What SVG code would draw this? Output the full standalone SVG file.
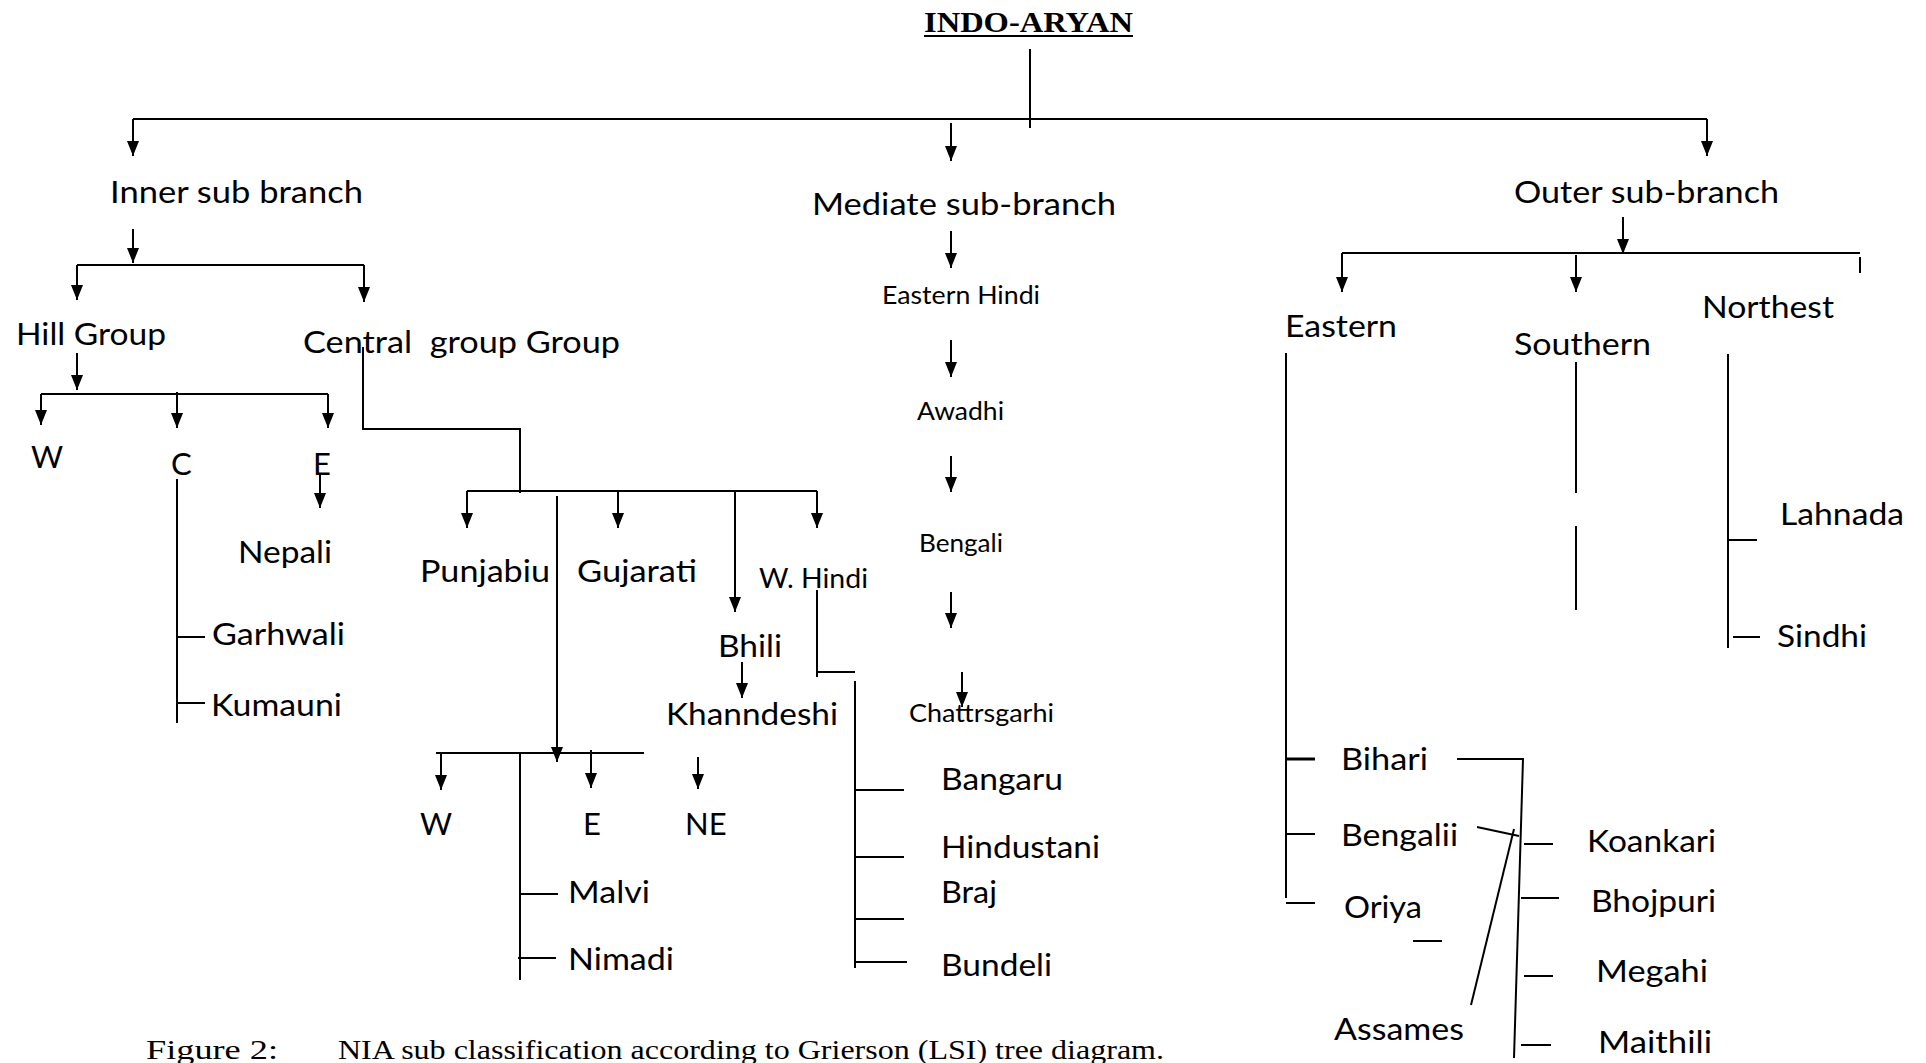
<svg xmlns="http://www.w3.org/2000/svg" width="1926" height="1063" viewBox="0 0 1926 1063">
<style>
.t{font-family:Lato,"Open Sans","Noto Sans",sans-serif;font-size:31px;fill:#000}
.s{font-family:Lato,"Open Sans","Noto Sans",sans-serif;font-size:25px;fill:#000}
.ti{font-family:"Liberation Serif","Times New Roman",serif;font-size:30px;font-weight:bold;fill:#000}
.cap{font-family:"Liberation Serif","Times New Roman",serif;font-size:28px;fill:#000}
.ln{fill:none;stroke:#000;stroke-width:2}
.ar{fill:none;stroke:#000;stroke-width:2;marker-end:url(#ah)}
</style>
<defs>
<marker id="ah" markerUnits="userSpaceOnUse" markerWidth="15" markerHeight="12" refX="15" refY="6" orient="auto" viewBox="0 0 15 12">
<path d="M0,0 L15,6 L0,12 z" fill="#000"/>
</marker>
</defs>
<rect width="1926" height="1063" fill="#fff"/>

<g id="connectors">
<path class="ln" d="M1030,49 V128"/>
<path class="ln" d="M133,119 H1707"/>
<path class="ar" d="M133,119 V156"/>
<path class="ar" d="M951,123 V161"/>
<path class="ar" d="M1707,119 V156"/>
<path class="ar" d="M133,229 V263"/>
<path class="ln" d="M77,265 H364"/>
<path class="ar" d="M77,265 V300"/>
<path class="ar" d="M364,265 V302"/>
<path class="ar" d="M77,353 V390"/>
<path class="ln" d="M41,394 H328"/>
<path class="ar" d="M41,394 V425"/>
<path class="ar" d="M177,392 V428"/>
<path class="ar" d="M328,394 V428"/>
<path class="ar" d="M320,473 V508"/>
<path class="ln" d="M177,479 V723 M177,637 H205 M177,703 H205"/>
<path class="ln" d="M363,347 V429 H520 V493"/>
<path class="ln" d="M467,491 H817"/>
<path class="ar" d="M467,491 V528"/>
<path class="ar" d="M618,491 V528"/>
<path class="ar" d="M735,491 V612"/>
<path class="ar" d="M817,491 V528"/>
<path class="ar" d="M557,496 V762"/>
<path class="ln" d="M436,753 H644"/>
<path class="ar" d="M441,753 V790"/>
<path class="ar" d="M591,750 V788"/>
<path class="ar" d="M698,757 V789"/>
<path class="ln" d="M520,753 V980 M520,894 H558 M518,958 H556"/>
<path class="ar" d="M742,662 V698"/>
<path class="ln" d="M817,590 V677 M817,672 H855"/>
<path class="ln" d="M855,681 V968 M855,790 H904 M855,857 H904 M855,919 H904 M855,962 H907"/>
<path class="ar" d="M951,231 V268"/>
<path class="ar" d="M951,340 V377"/>
<path class="ar" d="M951,456 V492"/>
<path class="ar" d="M951,592 V628"/>
<path class="ar" d="M962,672 V707"/>
<path class="ar" d="M1623,217 V254"/>
<path class="ln" d="M1342,253 H1860 M1860,257 V273"/>
<path class="ar" d="M1342,253 V292"/>
<path class="ar" d="M1576,255 V292"/>
<path class="ln" d="M1286,353 V898"/>
<path class="ln" d="M1286,759 H1315" style="stroke-width:3"/>
<path class="ln" d="M1286,834 H1315 M1286,903 H1315"/>
<path class="ln" d="M1576,362 V493 M1576,526 V610"/>
<path class="ln" d="M1728,354 V648 M1728,540 H1757 M1733,637 H1760"/>
<path class="ln" d="M1457,759 H1523 L1514,1058"/>
<path class="ln" d="M1477,827 L1519,836"/>
<path class="ln" d="M1514,829 L1471,1005"/>
<path class="ln" d="M1413,941 H1442"/>
<path class="ln" d="M1524,844 H1553 M1521,898 H1559 M1524,976 H1553 M1521,1045 H1551"/>
</g>

<g id="title"><text class="ti" x="924" y="32" textLength="209" lengthAdjust="spacingAndGlyphs">INDO-ARYAN</text><path class="ln" d="M924,36 H1133"/></g>

<g id="inner"><text class="t" x="110" y="203" textLength="253" lengthAdjust="spacingAndGlyphs">Inner sub branch</text></g>
<g id="mediate"><text class="t" x="812" y="215" textLength="304" lengthAdjust="spacingAndGlyphs">Mediate sub-branch</text></g>
<g id="outer"><text class="t" x="1514" y="203" textLength="265" lengthAdjust="spacingAndGlyphs">Outer sub-branch</text></g>

<g id="hill"><text class="t" x="16" y="345" textLength="150" lengthAdjust="spacingAndGlyphs">Hill Group</text></g>
<g id="central"><text class="t" x="303" y="353" textLength="317" lengthAdjust="spacingAndGlyphs" xml:space="preserve">Central  group Group</text></g>
<g id="hill-w"><text class="t" x="31" y="468">W</text></g>
<g id="hill-c"><text class="t" x="171" y="475">C</text></g>
<g id="hill-e"><text class="t" x="313" y="475">E</text></g>
<g id="nepali"><text class="t" x="238" y="563" textLength="94" lengthAdjust="spacingAndGlyphs">Nepali</text></g>
<g id="garhwali"><text class="t" x="212" y="645" textLength="133" lengthAdjust="spacingAndGlyphs">Garhwali</text></g>
<g id="kumauni"><text class="t" x="211" y="716" textLength="131" lengthAdjust="spacingAndGlyphs">Kumauni</text></g>

<g id="punjabiu"><text class="t" x="420" y="582" textLength="130" lengthAdjust="spacingAndGlyphs">Punjabiu</text></g>
<g id="gujarati"><text class="t" x="577" y="582" textLength="120" lengthAdjust="spacingAndGlyphs">Gujarati</text></g>
<g id="whindi"><text class="s" x="759" y="588" textLength="109" lengthAdjust="spacingAndGlyphs" style="font-size:26px">W. Hindi</text></g>
<g id="bhili"><text class="t" x="718" y="657" textLength="64" lengthAdjust="spacingAndGlyphs">Bhili</text></g>
<g id="khanndeshi"><text class="t" x="666" y="725" textLength="172" lengthAdjust="spacingAndGlyphs">Khanndeshi</text></g>
<g id="c-w"><text class="t" x="420" y="835">W</text></g>
<g id="c-e"><text class="t" x="583" y="835">E</text></g>
<g id="c-ne"><text class="t" x="685" y="835">NE</text></g>
<g id="malvi"><text class="t" x="568" y="903" textLength="82" lengthAdjust="spacingAndGlyphs">Malvi</text></g>
<g id="nimadi"><text class="t" x="568" y="970" textLength="106" lengthAdjust="spacingAndGlyphs">Nimadi</text></g>
<g id="bangaru"><text class="t" x="941" y="790" textLength="122" lengthAdjust="spacingAndGlyphs">Bangaru</text></g>
<g id="hindustani"><text class="t" x="941" y="858" textLength="159" lengthAdjust="spacingAndGlyphs">Hindustani</text></g>
<g id="braj"><text class="t" x="941" y="903" textLength="56" lengthAdjust="spacingAndGlyphs">Braj</text></g>
<g id="bundeli"><text class="t" x="941" y="976" textLength="111" lengthAdjust="spacingAndGlyphs">Bundeli</text></g>

<g id="eastern-hindi"><text class="s" x="882" y="304" textLength="158" lengthAdjust="spacingAndGlyphs">Eastern Hindi</text></g>
<g id="awadhi"><text class="s" x="917" y="420" textLength="87" lengthAdjust="spacingAndGlyphs">Awadhi</text></g>
<g id="bengali"><text class="s" x="919" y="552" textLength="84" lengthAdjust="spacingAndGlyphs">Bengali</text></g>
<g id="chattrsgarhi"><text class="s" x="909" y="722" textLength="145" lengthAdjust="spacingAndGlyphs">Chattrsgarhi</text></g>

<g id="eastern"><text class="t" x="1285" y="337" textLength="112" lengthAdjust="spacingAndGlyphs">Eastern</text></g>
<g id="southern"><text class="t" x="1514" y="355" textLength="137" lengthAdjust="spacingAndGlyphs">Southern</text></g>
<g id="northest"><text class="t" x="1702" y="318" textLength="132" lengthAdjust="spacingAndGlyphs">Northest</text></g>
<g id="lahnada"><text class="t" x="1780" y="525" textLength="124" lengthAdjust="spacingAndGlyphs">Lahnada</text></g>
<g id="sindhi"><text class="t" x="1777" y="647" textLength="90" lengthAdjust="spacingAndGlyphs">Sindhi</text></g>
<g id="bihari"><text class="t" x="1341" y="770" textLength="87" lengthAdjust="spacingAndGlyphs">Bihari</text></g>
<g id="bengalii"><text class="t" x="1341" y="846" textLength="117" lengthAdjust="spacingAndGlyphs">Bengalii</text></g>
<g id="oriya"><text class="t" x="1344" y="918" textLength="78" lengthAdjust="spacingAndGlyphs">Oriya</text></g>
<g id="assames"><text class="t" x="1334" y="1040" textLength="130" lengthAdjust="spacingAndGlyphs">Assames</text></g>
<g id="koankari"><text class="t" x="1587" y="852" textLength="129" lengthAdjust="spacingAndGlyphs">Koankari</text></g>
<g id="bhojpuri"><text class="t" x="1591" y="912" textLength="125" lengthAdjust="spacingAndGlyphs">Bhojpuri</text></g>
<g id="megahi"><text class="t" x="1596" y="982" textLength="112" lengthAdjust="spacingAndGlyphs">Megahi</text></g>
<g id="maithili"><text class="t" x="1598" y="1053" textLength="114" lengthAdjust="spacingAndGlyphs">Maithili</text></g>

<g id="caption"><text class="cap" x="146" y="1059" textLength="132" lengthAdjust="spacingAndGlyphs">Figure 2:</text><text class="cap" x="338" y="1059" textLength="826" lengthAdjust="spacingAndGlyphs">NIA sub classification according to Grierson (LSI) tree diagram.</text></g>
</svg>
